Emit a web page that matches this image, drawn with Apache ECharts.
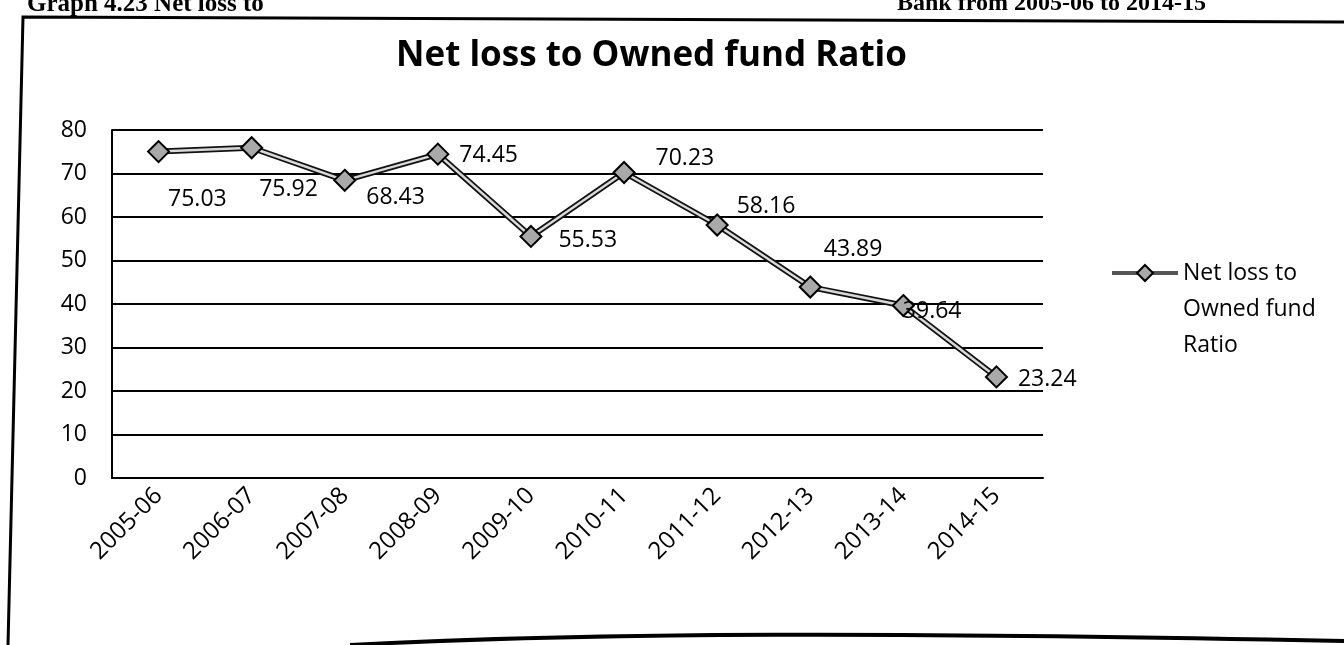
<!DOCTYPE html>
<html>
<head>
<meta charset="utf-8">
<script src="https://cdn.jsdelivr.net/npm/echarts@6/dist/echarts.min.js"></script>
<style>
  html, body { margin: 0; padding: 0; background: #fff; }
  #chart { width: 1344px; height: 645px; }
</style>
</head>
<body>
<div id="chart"></div>
<script>
// Financial years on the category axis
const years = ['2005-06', '2006-07', '2007-08', '2008-09', '2009-10',
               '2010-11', '2011-12', '2012-13', '2013-14', '2014-15'];
// Net loss to owned fund ratio (%)
const ratio = [75.03, 75.92, 68.43, 74.45, 55.53, 70.23, 58.16, 43.89, 39.64, 23.24];
// Value axis ticks
const yTicks = [0, 10, 20, 30, 40, 50, 60, 70, 80];

const seriesName = 'Net loss to Owned fund Ratio';

// Where each value label sits relative to its marker
const labelOffsets = [[-16, 48], [-18, 42], [-4, 17], [-4, 1], [2, 4],
                      [6, -14], [-6, -19], [-12, -38], [-26, 6], [-4, 3]];

const FONT = '"Open Sans", Lato, sans-serif';

const chart = echarts.init(document.getElementById('chart'), null, { renderer: 'canvas' });

chart.setOption({
  backgroundColor: '#ffffff',
  animation: false,
  title: {
    text: 'Net loss to Owned fund Ratio',
    left: 391,
    top: 34,
    textStyle: { fontFamily: FONT, fontWeight: 'bold', fontSize: 35, color: '#000' }
  },
  legend: {
    data: [{
      name: seriesName,
      lineStyle: { color: '#555', width: 4 }
    }],
    left: 1110,
    top: 183,
    padding: 0,
    orient: 'vertical',
    itemWidth: 66,
    itemHeight: 20,
    itemGap: 6,
    // blank lines keep the first text line level with the icon
    formatter: () => '\n\nNet loss to\nOwned fund\nRatio',
    textStyle: {
      fontFamily: FONT, fontSize: 23, color: '#000', lineHeight: 36
    }
  },
  grid: { left: 112, right: 301, top: 130, bottom: 167, containLabel: false },
  xAxis: {
    type: 'category',
    data: years,
    boundaryGap: true,
    axisLine: { show: true, lineStyle: { color: '#000', width: 2 } },
    axisTick: { show: false },
    axisLabel: {
      rotate: 45, margin: 14, color: '#000',
      fontFamily: FONT, fontSize: 24, interval: 0
    },
    splitLine: { show: false }
  },
  yAxis: {
    type: 'value',
    min: yTicks[0],
    max: yTicks[yTicks.length - 1],
    interval: yTicks[1] - yTicks[0],
    axisLine: { show: true, lineStyle: { color: '#000', width: 2 } },
    axisTick: { show: false },
    axisLabel: { margin: 25, color: '#000', fontFamily: FONT, fontSize: 23 },
    splitLine: { show: true, lineStyle: { color: '#000', width: 2 } }
  },
  series: [
    {
      // dark outline beneath the light line
      name: 'outline',
      type: 'line',
      data: ratio,
      symbol: 'none',
      silent: true,
      lineStyle: { color: '#111', width: 6 },
      z: 2
    },
    {
      name: seriesName,
      type: 'line',
      data: ratio,
      symbol: 'diamond',
      symbolSize: 21,
      itemStyle: { color: '#a9a9a9', borderColor: '#000', borderWidth: 2 },
      lineStyle: { color: '#d9d9d9', width: 2.5 },
      label: {
        show: true,
        position: 'right',
        distance: 14,
        color: '#000',
        fontFamily: FONT,
        fontSize: 23,
        formatter: p => p.value.toFixed(2)
      },
      labelLayout: p => ({ dx: labelOffsets[p.dataIndex][0], dy: labelOffsets[p.dataIndex][1] }),
      z: 3
    }
  ],
  graphic: [
    // caption above the chart frame
    {
      type: 'text', left: 27, top: -8, z: 10,
      style: { text: 'Graph 4.23 Net loss to', font: 'bold 25px "Liberation Serif", serif', fill: '#000' }
    },
    {
      type: 'text', left: 897, top: -8, z: 10,
      style: { text: 'Bank from 2005-06 to 2014-15', font: 'bold 24px "Liberation Serif", serif', fill: '#000' }
    },
    // chart frame
    {
      type: 'polyline', z: 10,
      shape: { points: [[8, 645], [23, 17], [1344, 22]] },
      style: { stroke: '#000', lineWidth: 3, fill: null }
    },
    {
      type: 'bezierCurve', z: 10,
      shape: { x1: 350, y1: 645, cpx1: 600, cpy1: 632, cpx2: 900, cpy2: 632, x2: 1344, y2: 641 },
      style: { stroke: '#000', lineWidth: 4, fill: null }
    }
  ]
});
</script>
</body>
</html>
